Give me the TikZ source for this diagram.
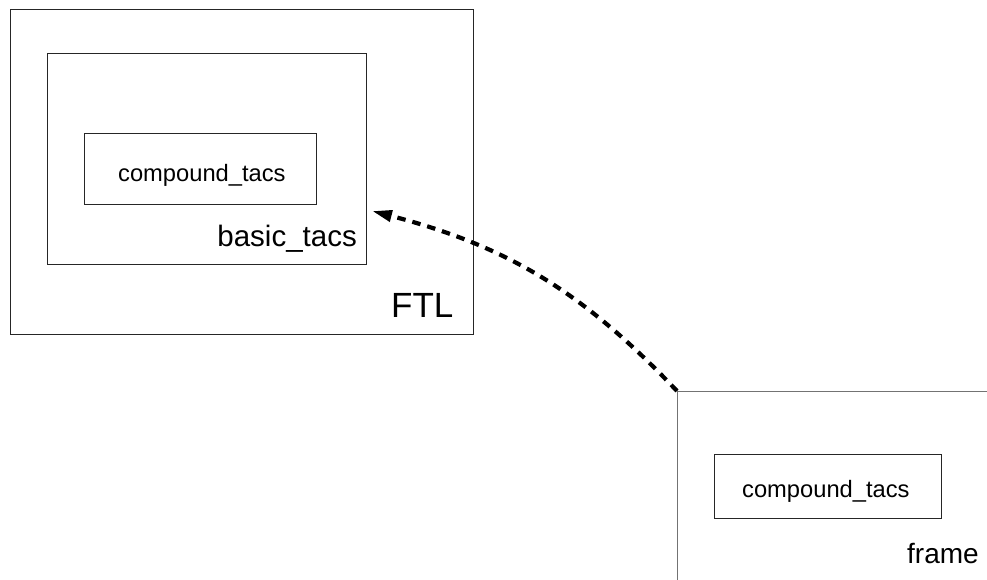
\documentclass[tikz,border=0pt]{standalone}
\usepackage{fontspec}
\setmainfont{Liberation Sans}
\usetikzlibrary{arrows.meta}
\tikzset{
  box/.style={draw=black!85, line width=1pt, rectangle, inner sep=0pt},
  edgeline/.style={draw=black!55, line width=1pt},
  lbl/.style={inner sep=0pt, text=black},
  link/.style={line width=4.2pt, dash pattern=on 8.5pt off 7pt, -{Triangle[length=20pt,width=11pt]}},
}
\begin{document}
\begin{tikzpicture}[x=1pt, y=-1pt]
  \useasboundingbox (0,0) rectangle (987,580);
  % FTL with its nested boxes
  \node[box, minimum width=463pt, minimum height=324pt] (ftl) at (241.5,172) {};
  \node[box, minimum width=319pt, minimum height=210pt] (basic) at (206.5,159) {};
  \node[box, minimum width=232pt, minimum height=70pt] (cmpA) at (200,169) {};
  \node[lbl, anchor=base west, font=\fontsize{23.7}{28}\selectfont] (cmpAtxt) at (118,182) {compound\_tacs};
  \node[lbl, anchor=base east, font=\fontsize{29.5}{34}\selectfont] (basictxt) at (357,246) {basic\_tacs};
  \node[lbl, anchor=base west, font=\fontsize{35}{40}\selectfont] (ftltxt) at (391,317) {FTL};
  % frame, open to the page edges
  \coordinate (fc) at (677,391);
  \coordinate (fr) at (987,391);
  \coordinate (fb) at (677,580);
  \draw[edgeline] (fr) -- (fc) -- (fb);
  \node[box, minimum width=227pt, minimum height=64pt] (cmpB) at (827.5,486) {};
  \node[lbl, anchor=base west, font=\fontsize{23.7}{28}\selectfont] (cmpBtxt) at (742,497) {compound\_tacs};
  \node[lbl, anchor=base west, font=\fontsize{28}{32}\selectfont] (frametxt) at (907,563) {frame};
  % dashed link from frame to basic_tacs
  \coordinate (tip) at (372,211);
  \draw[link] (fc) to[bend right=16] (tip);
\end{tikzpicture}
\end{document}
